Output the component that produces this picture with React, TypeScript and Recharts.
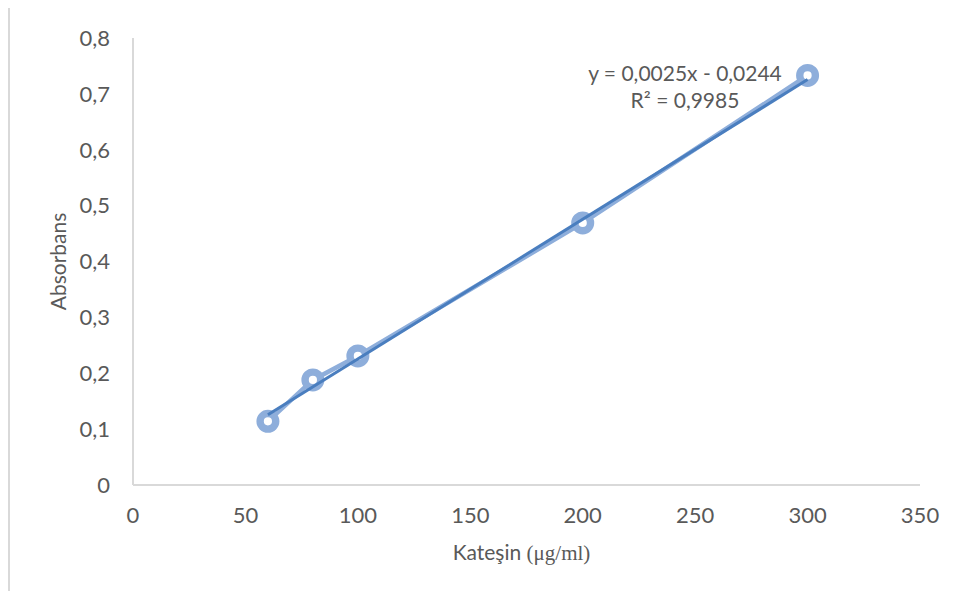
import React from "react";
import {
  ComposedChart,
  Scatter,
  XAxis,
  YAxis,
  Label,
} from "recharts";

// Catechin standard curve: concentration (µg/ml) vs absorbance
const concentrations = [60, 80, 100, 200, 300];
const absorbance = [0.114, 0.188, 0.231, 0.469, 0.733];

const xTicks = [0, 50, 100, 150, 200, 250, 300, 350];
const yTicks = [0, 0.1, 0.2, 0.3, 0.4, 0.5, 0.6, 0.7, 0.8];

// linear trendline as reported on the chart
const slope = 0.0025;
const intercept = -0.0244;
const rSquared = 0.9985;

// light grey band at the very top of the page
const bandShapes = [
  [77, 145],
  [222, 287],
  [328, 382],
  [452, 510],
  [588, 643],
  [718, 777],
];

const TEXT = "#595959";
const AXIS = "#d9d9d9";
const POINT = "#8eaedb";
const TREND = "#4a7ebf";
const FONT = "Lato, 'Open Sans', sans-serif";

const fmt = (v: number) => String(v).replace(".", ",");

const points = concentrations.map((x, i) => ({ x, y: absorbance[i] }));
const trendEnds = [concentrations[0], concentrations[concentrations.length - 1]];
const trend = trendEnds.map((x) => ({ x, y: slope * x + intercept }));

const RingDot = (props: any) => {
  const { cx, cy } = props;
  if (cx == null || cy == null) return <g />;
  return <circle cx={cx} cy={cy} r={7.8} fill="#fff" stroke={POINT} strokeWidth={7.4} />;
};

const NoDot = () => <g />;

export default function App() {
  return (
    <div
      style={{
        position: "relative",
        width: 959,
        height: 599,
        margin: -8,
        overflow: "hidden",
        background: "#fff",
        fontFamily: FONT,
      }}
    >
      <svg
        width={959}
        height={8}
        style={{ position: "absolute", left: 0, top: 0 }}
      >
        {bandShapes.map(([a, b], i) => (
          <polygon
            key={i}
            points={`${a},0 ${b},0 ${b - 9},7 ${a + 9},7`}
            fill="#ececec"
          />
        ))}
      </svg>
      <div
        style={{
          position: "absolute",
          left: 8,
          top: 6,
          width: 980,
          height: 620,
          borderLeft: `2px solid ${AXIS}`,
          borderTop: `2px solid ${AXIS}`,
        }}
      />
      <div style={{ position: "absolute", left: 0, top: 0 }}>
        <ComposedChart
          width={959}
          height={599}
          margin={{ top: 38, right: 39, bottom: 0, left: 0 }}
        >
          <XAxis
            type="number"
            dataKey="x"
            domain={[0, 350]}
            ticks={xTicks}
            interval={0}
            tickLine={false}
            axisLine={{ stroke: AXIS, strokeWidth: 2 }}
            tickMargin={16}
            tick={{ fill: TEXT, fontSize: 22, fontFamily: FONT }}
            height={114}
          >
            <Label
              content={({ viewBox }: any) => (
                <text
                  x={viewBox.x + viewBox.width / 2 - 5}
                  y={560}
                  textAnchor="middle"
                  fill={TEXT}
                  fontSize={21}
                  fontFamily={FONT}
                >
                  Kateşin{" "}
                  <tspan fontFamily="'Liberation Serif', serif" fontSize={21}>
                    (μg/ml)
                  </tspan>
                </text>
              )}
            />
          </XAxis>
          <YAxis
            type="number"
            dataKey="y"
            domain={[0, 0.8]}
            ticks={yTicks}
            interval={0}
            width={133}
            tickLine={false}
            axisLine={{ stroke: AXIS, strokeWidth: 2 }}
            tickMargin={17}
            tickFormatter={fmt}
            tick={{ fill: TEXT, fontSize: 22, fontFamily: FONT }}
          >
            <Label
              content={({ viewBox }: any) => {
                const cy = viewBox.y + viewBox.height / 2;
                return (
                  <text
                    x={66}
                    y={cy}
                    transform={`rotate(-90 66 ${cy})`}
                    textAnchor="middle"
                    fill={TEXT}
                    fontSize={21}
                    fontFamily={FONT}
                  >
                    Absorbans
                  </text>
                );
              }}
            />
          </YAxis>
          <Scatter
            data={points}
            dataKey="y"
            line={{ stroke: POINT, strokeWidth: 4.5 }}
            lineType="joint"
            shape={RingDot}
            isAnimationActive={false}
          />
          <Scatter
            data={trend}
            dataKey="y"
            line={{ stroke: TREND, strokeWidth: 3 }}
            lineType="joint"
            shape={NoDot}
            isAnimationActive={false}
          />
        </ComposedChart>
      </div>
      <div
        style={{
          position: "absolute",
          left: 535,
          top: 59,
          width: 300,
          textAlign: "center",
          color: TEXT,
          fontSize: 21,
          lineHeight: "27px",
        }}
      >
        <div>y = {fmt(slope)}x - {fmt(-intercept)}</div>
        <div>R² = {fmt(rSquared)}</div>
      </div>
    </div>
  );
}
